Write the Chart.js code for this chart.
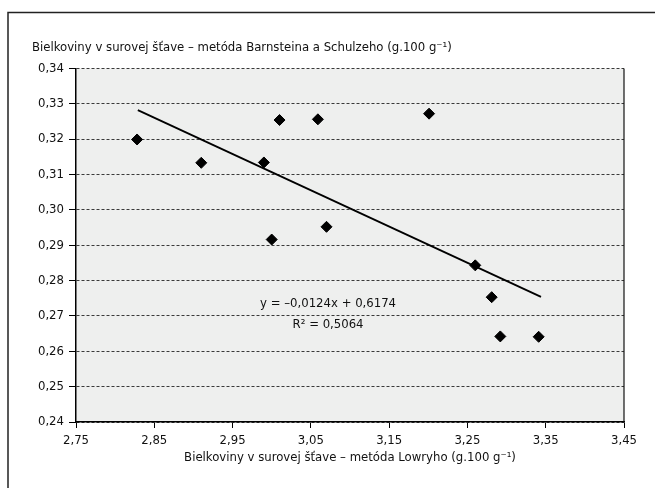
<!DOCTYPE html>
<html>
<head>
<meta charset="utf-8">
<script src="https://cdn.jsdelivr.net/npm/chart.js@4/dist/chart.umd.min.js"></script>
<style>
  html, body { margin: 0; padding: 0; background: #ffffff; }
  #wrap { width: 655px; height: 488px; }
</style>
</head>
<body>
<div id="wrap"><canvas id="c" width="655" height="488"></canvas></div>
<script>
// ---- data ----
const lowryX = [2.828, 2.910, 2.990, 3.010, 3.059, 3.000, 3.070, 3.201, 3.260, 3.281, 3.292, 3.341];
const barnsteinY = [0.3199, 0.3133, 0.3134, 0.3254, 0.3256, 0.2916, 0.2952, 0.3272, 0.2843, 0.2753, 0.2642, 0.2641];
const trendX = [2.829, 3.344];
const trendY = [0.3282, 0.2754];
const xTicks = [2.75, 2.85, 2.95, 3.05, 3.15, 3.25, 3.35, 3.45];
const yTicks = [0.24, 0.25, 0.26, 0.27, 0.28, 0.29, 0.30, 0.31, 0.32, 0.33, 0.34];
const yTitle = 'Bielkoviny v surovej šťave – metóda Barnsteina a Schulzeho (g.100 g⁻¹)';
const xTitle = 'Bielkoviny v surovej šťave – metóda Lowryho (g.100 g⁻¹)';
const eqLines = ['y = –0,0124x + 0,6174', 'R² = 0,5064'];

const FONT = "'Liberation Sans Narrow', 'DejaVu Sans Condensed', 'Roboto Condensed', Arial, sans-serif";
const fmt = v => v.toFixed(2).replace('.', ',');

const frame = {
  id: 'frame',
  beforeDraw(chart) {
    const { ctx, chartArea: a } = chart;
    ctx.save();
    ctx.fillStyle = '#ffffff';
    ctx.fillRect(0, 0, chart.width, chart.height);
    // outer box (left and top edges visible)
    ctx.strokeStyle = '#222';
    ctx.lineWidth = 1.5;
    ctx.beginPath();
    ctx.moveTo(8, 488);
    ctx.lineTo(8, 12.5);
    ctx.lineTo(655, 12.5);
    ctx.stroke();
    // plot background
    ctx.fillStyle = '#eeefee';
    ctx.fillRect(a.left, a.top, a.right - a.left, a.bottom - a.top);
    ctx.restore();
  },
  afterDraw(chart) {
    const { ctx, chartArea: a, scales } = chart;
    ctx.save();
    ctx.strokeStyle = '#111';
    ctx.lineWidth = 1.2;
    ctx.beginPath();
    ctx.moveTo(a.right, a.top);
    ctx.lineTo(a.right, a.bottom);
    ctx.stroke();
    ctx.fillStyle = '#111';
    ctx.font = "13px " + FONT;
    ctx.textAlign = 'center';
    ctx.textBaseline = 'middle';
    // equation placed by data coordinates near the trend line
    const ex = scales.x.getPixelForValue(3.072);
    ctx.fillText(eqLines[0], ex, scales.y.getPixelForValue(0.2736));
    ctx.fillText(eqLines[1], ex, scales.y.getPixelForValue(0.2674));
    ctx.restore();
  }
};

new Chart(document.getElementById('c'), {
  type: 'scatter',
  data: {
    datasets: [
      {
        label: 'data',
        data: lowryX.map((x, i) => ({ x: x, y: barnsteinY[i] })),
        pointStyle: 'rectRot',
        pointRadius: 5.5,
        pointBackgroundColor: '#000',
        pointBorderColor: '#000',
        pointBorderWidth: 1,
        showLine: false
      },
      {
        label: 'trend',
        data: trendX.map((x, i) => ({ x: x, y: trendY[i] })),
        showLine: true,
        borderColor: '#000',
        borderWidth: 1.8,
        pointRadius: 0,
        fill: false
      }
    ]
  },
  options: {
    responsive: false,
    devicePixelRatio: 1,
    animation: false,
    layout: { padding: { left: 32, top: 39, right: 31, bottom: 0 } },
    plugins: {
      legend: { display: false },
      tooltip: { enabled: false },
      title: {
        display: true,
        text: yTitle,
        align: 'start',
        color: '#111',
        font: { family: FONT, size: 13, weight: 'normal', lineHeight: 1.2 },
        padding: { top: 0.6, bottom: 13.2 }
      }
    },
    scales: {
      x: {
        type: 'linear',
        min: 2.75,
        max: 3.45,
        afterBuildTicks: s => { s.ticks = xTicks.map(v => ({ value: v })); },
        afterFit: s => { s.height = 66; },
        ticks: {
          color: '#111',
          font: { family: FONT, size: 13 },
          padding: 5,
          maxRotation: 0,
          autoSkip: false,
          callback: v => fmt(v)
        },
        grid: {
          display: true,
          drawOnChartArea: false,
          drawTicks: true,
          tickLength: 6,
          color: '#000',
          tickColor: '#000',
          lineWidth: 1
        },
        border: { display: true, color: '#000', width: 1.5 },
        title: {
          display: true,
          text: xTitle,
          color: '#111',
          font: { family: FONT, size: 13, lineHeight: 1.2 },
          padding: { top: 0, bottom: 23 }
        }
      },
      y: {
        type: 'linear',
        min: 0.24,
        max: 0.34,
        afterBuildTicks: s => { s.ticks = yTicks.map(v => ({ value: v })); },
        afterFit: s => { s.width = 44; },
        ticks: {
          color: '#111',
          font: { family: FONT, size: 13 },
          padding: 5,
          autoSkip: false,
          callback: v => fmt(v)
        },
        grid: {
          display: true,
          drawTicks: true,
          tickLength: 7,
          color: '#3a3a3a',
          tickColor: '#000',
          lineWidth: 1
        },
        border: { display: true, color: '#000', width: 1.5, dash: [3, 2] }
      }
    }
  },
  plugins: [frame]
});
</script>
</body>
</html>
